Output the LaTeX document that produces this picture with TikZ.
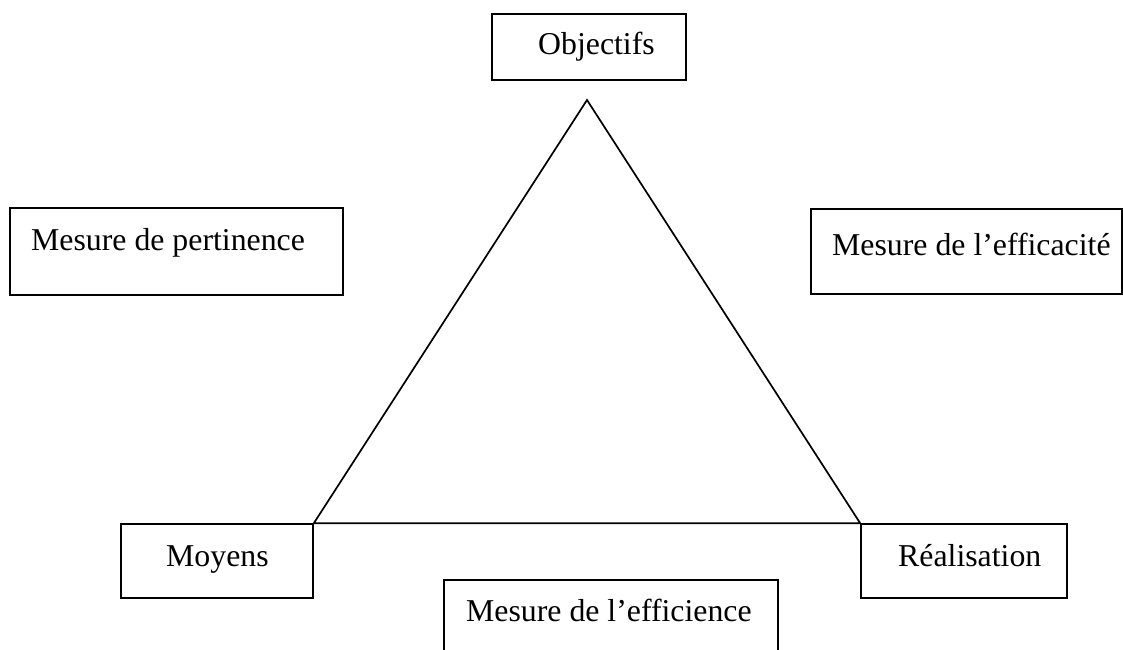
\documentclass[tikz,border=0pt]{standalone}
\usepackage{fontspec}
\setmainfont{Liberation Serif}
\begin{document}
\begin{tikzpicture}[x=1pt,y=-1pt,
  box/.style={draw,line width=1.7pt,rectangle,inner sep=0pt},
  lbl/.style={anchor=base west,inner sep=0pt,font=\fontsize{31.8}{36}\selectfont},
  edge/.style={line width=1.7pt,line join=miter}]
\useasboundingbox (0,0) rectangle (1123,649);
\clip (0,0) rectangle (1123,649);
% boxes (given by corners)
\node[box,minimum width=194pt,minimum height=66pt] (obj) at (589,47) {};
\node[box,minimum width=333pt,minimum height=87pt] (pert) at (176.5,251.5) {};
\node[box,minimum width=311pt,minimum height=85pt] (effic) at (966.5,251.5) {};
\node[box,minimum width=192pt,minimum height=74pt] (moy) at (217,561) {};
\node[box,minimum width=206pt,minimum height=74pt] (real) at (964,561) {};
\node[box,minimum width=334pt,minimum height=80pt] (effi) at (611,620) {};
% labels
\node[lbl] (tobj) at (538,54) {Objectifs};
\node[lbl] (tpert) at (31,250) {Mesure de pertinence};
\node[lbl] (teffic) at (832,255) {Mesure de l’efficacité};
\node[lbl] (tmoy) at (166,566) {Moyens};
\node[lbl] (treal) at (898,566) {Réalisation};
\node[lbl] (teffi) at (466,621) {Mesure de l’efficience};
% triangle
\coordinate (apex) at (587,100);
\draw[edge] (apex) -- (moy.north east) -- (real.north west) -- cycle;
\end{tikzpicture}
\end{document}
